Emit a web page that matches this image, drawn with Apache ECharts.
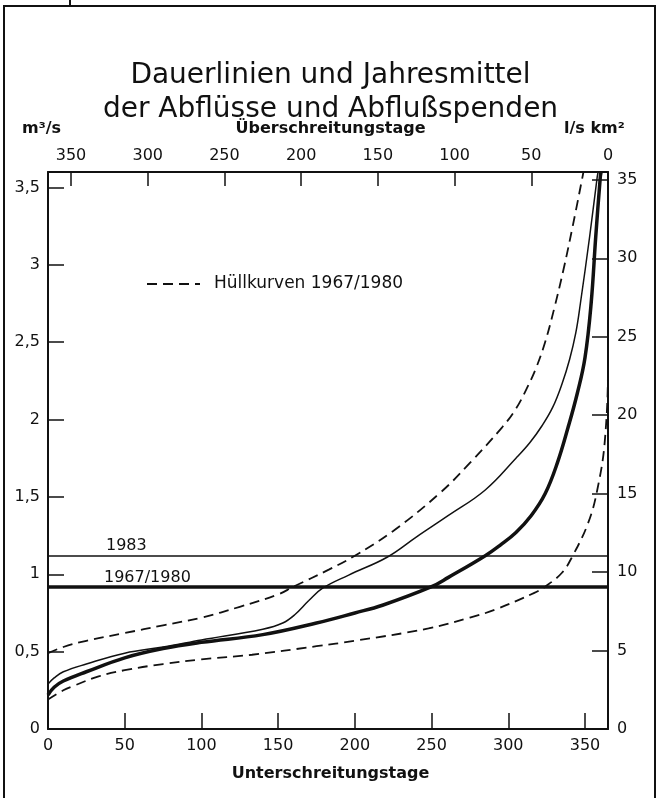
<!DOCTYPE html>
<html>
<head>
<meta charset="UTF-8">
<title>Dauerlinien</title>
<script src="https://cdn.jsdelivr.net/npm/echarts@6/dist/echarts.min.js"></script>
</head>
<body style="margin:0;background:#fff">
<div id="main" style="width:661px;height:798px"></div>
<script>
// Dauerlinien (Tage, m3/s)
var thinDays = [0, 4, 10, 25, 50, 75, 100, 140, 153, 161, 170, 179, 196, 221, 240, 261, 285, 305, 314, 322, 329, 335, 340, 344, 347, 353, 358, 358.6];
var thinVals = [0.29, 0.33, 0.37, 0.42, 0.49, 0.53, 0.575, 0.645, 0.685, 0.74, 0.83, 0.91, 0.995, 1.11, 1.24, 1.38, 1.545, 1.75, 1.85, 1.96, 2.08, 2.23, 2.39, 2.56, 2.75, 3.18, 3.57, 3.6];

var thickDays = [0, 4, 10, 25, 50, 75, 100, 140, 175, 200, 218, 250, 261, 285, 295, 305, 315, 324, 332, 339, 345, 350, 354, 357, 360, 360.5];
var thickVals = [0.22, 0.27, 0.31, 0.37, 0.46, 0.52, 0.56, 0.61, 0.685, 0.75, 0.8, 0.92, 0.98, 1.12, 1.19, 1.27, 1.38, 1.52, 1.72, 1.95, 2.17, 2.4, 2.75, 3.18, 3.57, 3.6];

// Hüllkurven 1967/1980
var upperDays = [0, 10, 25, 50, 75, 100, 125, 150, 160, 183, 200, 225, 256, 275, 296, 305, 312, 318, 324, 330, 336, 342, 349];
var upperVals = [0.49, 0.53, 0.57, 0.62, 0.67, 0.72, 0.79, 0.87, 0.92, 1.03, 1.12, 1.28, 1.53, 1.72, 1.95, 2.07, 2.2, 2.33, 2.5, 2.72, 2.97, 3.25, 3.6];

var lowerDays = [0, 10, 17, 33, 50, 75, 100, 133, 175, 200, 248, 275, 291, 317, 324, 335, 342, 352, 358, 363, 365, 365];
var lowerVals = [0.19, 0.25, 0.28, 0.34, 0.38, 0.42, 0.45, 0.48, 0.535, 0.57, 0.65, 0.72, 0.77, 0.88, 0.92, 1.01, 1.12, 1.33, 1.545, 1.87, 2.4, 3.6];

// Jahresmittel
var meanNames = ['1983', '1967/1980'];
var meanVals = [1.118, 0.918];

var dayTicks = [0, 50, 100, 150, 200, 250, 300, 350];

function zip(a, b) {
    return a.map(function (d, i) { return [d, b[i]]; });
}

var myChart = echarts.init(document.getElementById('main'));
var ink = '#111';

var tickLabel = { color: ink, fontSize: 16, fontFamily: 'DejaVu Sans' };
var axisLine = { onZero: false, lineStyle: { color: ink, width: 2 } };

var option = {
    animation: false,
    backgroundColor: '#fff',
    grid: { left: 48, right: 53, top: 172, bottom: 69 },
    xAxis: [{
        type: 'value', min: 0, max: 365, interval: 50, position: 'bottom',
        axisLine: axisLine,
        axisTick: { inside: true, length: 16, lineStyle: { color: ink, width: 1.5 } },
        axisLabel: Object.assign({ margin: 9, formatter: function (v) { return dayTicks.indexOf(v) >= 0 ? v : ''; } }, tickLabel),
        splitLine: { show: false }
    }, {
        type: 'value', min: 0, max: 365, interval: 50, position: 'top', inverse: true,
        axisLine: axisLine,
        axisTick: { inside: true, length: 14, lineStyle: { color: ink, width: 1.5 } },
        axisLabel: Object.assign({ margin: 8, formatter: function (v) { return dayTicks.indexOf(v) >= 0 ? v : ''; } }, tickLabel),
        splitLine: { show: false }
    }],
    yAxis: [{
        type: 'value', min: 0, max: 3.6, interval: 0.5, position: 'left',
        axisLine: Object.assign({ show: true }, axisLine),
        axisTick: { show: true, inside: true, length: 16, lineStyle: { color: ink, width: 1.5 } },
        axisLabel: Object.assign({ margin: 8, formatter: function (v) { return v > 3.5 ? '' : String(v).replace('.', ','); } }, tickLabel),
        splitLine: { show: false }
    }, {
        type: 'value', min: 0, max: 35.5, interval: 5, position: 'right',
        axisLine: Object.assign({ show: true }, axisLine),
        axisTick: { show: true, inside: true, length: 16, lineStyle: { color: ink, width: 1.5 } },
        axisLabel: Object.assign({ margin: 9, formatter: function (v) { return v > 35 ? '' : v; } }, tickLabel),
        splitLine: { show: false }
    }],
    series: [{
        name: '1983', type: 'line', data: zip(thinDays, thinVals),
        smooth: 0.4, showSymbol: false,
        lineStyle: { color: ink, width: 1.5 }
    }, {
        name: '1967/1980', type: 'line', data: zip(thickDays, thickVals),
        smooth: 0.4, showSymbol: false,
        lineStyle: { color: ink, width: 3.5 }
    }, {
        name: 'Hüllkurve oben', type: 'line', data: zip(upperDays, upperVals),
        smooth: 0.4, showSymbol: false,
        lineStyle: { color: ink, width: 1.8, type: [10, 6] }
    }, {
        name: 'Hüllkurve unten', type: 'line', data: zip(lowerDays, lowerVals),
        smooth: 0.4, showSymbol: false,
        lineStyle: { color: ink, width: 1.8, type: [10, 6] }
    }, {
        name: meanNames[0] + ' Mittel', type: 'line', data: [[0, meanVals[0]], [365, meanVals[0]]],
        showSymbol: false, lineStyle: { color: ink, width: 1.5 }
    }, {
        name: meanNames[1] + ' Mittel', type: 'line', data: [[0, meanVals[1]], [365, meanVals[1]]],
        showSymbol: false, lineStyle: { color: ink, width: 3.5 }
    }],
    graphic: [
        // Rahmen
        { type: 'polyline', shape: { points: [[4, 798], [4, 6], [655, 6], [655, 798]] }, style: { stroke: ink, lineWidth: 2, fill: null } },
        { type: 'line', shape: { x1: 70, y1: 0, x2: 70, y2: 6 }, style: { stroke: ink, lineWidth: 2 } },
        // Titel
        { type: 'text', left: 'center', top: 62, style: { text: 'Dauerlinien und Jahresmittel', font: '28px "DejaVu Sans"', fill: ink } },
        { type: 'text', left: 'center', top: 96, style: { text: 'der Abflüsse und Abflußspenden', font: '28px "DejaVu Sans"', fill: ink } },
        // Achsentitel
        { type: 'text', left: 22, top: 121, style: { text: 'm³/s', font: 'bold 16px "DejaVu Sans"', fill: ink } },
        { type: 'text', left: 'center', top: 121, style: { text: 'Überschreitungstage', font: 'bold 16px "DejaVu Sans"', fill: ink } },
        { type: 'text', left: 564, top: 121, style: { text: 'l/s km²', font: 'bold 16px "DejaVu Sans"', fill: ink } },
        { type: 'text', left: 'center', top: 766, style: { text: 'Unterschreitungstage', font: 'bold 16px "DejaVu Sans"', fill: ink } },
        // Legende
        { type: 'line', shape: { x1: 147, y1: 284, x2: 200, y2: 284 }, style: { stroke: ink, lineWidth: 1.8, lineDash: [10, 6] } },
        { type: 'text', left: 214, top: 275, style: { text: 'Hüllkurven 1967/1980', font: '17px "DejaVu Sans"', fill: ink } },
        // Mittelwerte
        { type: 'text', left: 106, top: 538, style: { text: meanNames[0], font: '16px "DejaVu Sans"', fill: ink } },
        { type: 'text', left: 104, top: 570, style: { text: meanNames[1], font: '16px "DejaVu Sans"', fill: ink } }
    ]
};

myChart.setOption(option);
</script>
</body>
</html>
